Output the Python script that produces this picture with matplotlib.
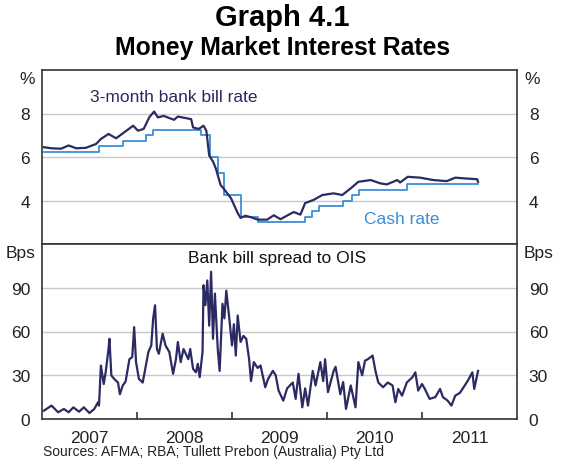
import matplotlib
matplotlib.use("Agg")
import matplotlib.pyplot as plt

plt.rcParams['font.family'] = ['Liberation Sans', 'DejaVu Sans']

# ---------------- data ----------------
bill_years = [2007.02, 2007.10, 2007.20, 2007.28, 2007.36, 2007.46, 2007.57, 2007.62, 2007.70, 2007.78,
              2007.87, 2007.96, 2008.01, 2008.07, 2008.13, 2008.18, 2008.22, 2008.28, 2008.39, 2008.43,
              2008.50, 2008.57, 2008.59, 2008.65, 2008.70, 2008.73, 2008.76, 2008.80, 2008.83, 2008.88,
              2008.91, 2008.99, 2009.06, 2009.09, 2009.14, 2009.20, 2009.27, 2009.37, 2009.44, 2009.51,
              2009.59, 2009.65, 2009.72, 2009.77, 2009.86, 2009.95, 2010.07, 2010.16, 2010.25, 2010.33,
              2010.46, 2010.56, 2010.63, 2010.74, 2010.77, 2010.85, 2010.98, 2011.12, 2011.26, 2011.35,
              2011.47, 2011.58, 2011.59]
bill_rate = [6.45, 6.40, 6.38, 6.53, 6.40, 6.42, 6.60, 6.83, 7.06, 6.86,
             7.15, 7.44, 7.21, 7.29, 7.83, 8.09, 7.82, 7.89, 7.71, 7.86,
             7.80, 7.74, 7.36, 7.29, 7.44, 7.21, 6.07, 5.79, 5.47, 4.71,
             4.56, 4.10, 3.42, 3.20, 3.30, 3.23, 3.12, 3.12, 3.32, 3.14,
             3.33, 3.47, 3.35, 3.88, 4.03, 4.25, 4.33, 4.25, 4.56, 4.86,
             4.94, 4.79, 4.74, 4.94, 4.83, 5.09, 5.05, 4.94, 4.89, 5.05,
             5.01, 4.98, 4.86]

cash_years = [2007.02, 2007.60, 2007.85, 2008.10, 2008.17, 2008.67, 2008.77, 2008.85, 2008.92,
              2009.09, 2009.27, 2009.77, 2009.84, 2009.92, 2010.17, 2010.26, 2010.34, 2010.84, 2011.59]
cash_rate = [6.25, 6.50, 6.75, 7.00, 7.25, 7.00, 6.00, 5.25, 4.25,
             3.25, 3.00, 3.25, 3.50, 3.75, 4.00, 4.25, 4.50, 4.75, 4.75]

spread_years = [2007.02, 2007.10, 2007.17, 2007.23, 2007.28, 2007.33, 2007.39, 2007.44, 2007.50, 2007.55,
                2007.59, 2007.60, 2007.62, 2007.65, 2007.67, 2007.70, 2007.71, 2007.73, 2007.76, 2007.80,
                2007.82, 2007.85, 2007.88, 2007.92, 2007.95, 2007.97, 2007.99, 2008.02, 2008.06, 2008.12,
                2008.15, 2008.17, 2008.19, 2008.21, 2008.23, 2008.27, 2008.30, 2008.34, 2008.38, 2008.41,
                2008.43, 2008.46, 2008.49, 2008.54, 2008.56, 2008.59, 2008.62, 2008.64, 2008.66, 2008.69,
                2008.70, 2008.72, 2008.74, 2008.76, 2008.78, 2008.80, 2008.82, 2008.85, 2008.87, 2008.90,
                2008.92, 2008.94, 2008.97, 2009.00, 2009.02, 2009.04, 2009.06, 2009.09, 2009.12, 2009.15,
                2009.18, 2009.20, 2009.23, 2009.27, 2009.30, 2009.35, 2009.38, 2009.43, 2009.46, 2009.49,
                2009.54, 2009.58, 2009.64, 2009.67, 2009.70, 2009.74, 2009.77, 2009.80, 2009.85, 2009.88,
                2009.93, 2009.96, 2009.98, 2010.01, 2010.07, 2010.09, 2010.14, 2010.17, 2010.20, 2010.25,
                2010.30, 2010.33, 2010.37, 2010.40, 2010.43, 2010.48, 2010.51, 2010.54, 2010.59, 2010.64,
                2010.69, 2010.72, 2010.75, 2010.79, 2010.84, 2010.90, 2010.93, 2010.96, 2011.00, 2011.03,
                2011.08, 2011.14, 2011.19, 2011.22, 2011.27, 2011.31, 2011.35, 2011.40, 2011.45, 2011.48,
                2011.53, 2011.55, 2011.59]
spread_bps = [5.7, 9.2, 4.6, 6.9, 4.6, 8.0, 5.0, 8.0, 4.1, 6.9,
              11.5, 9.2, 36.7, 24, 32, 48, 55, 29.8, 27.5, 25,
              17, 23, 25.7, 41, 42.5, 63, 39, 27.5, 25, 46,
              50.4, 68.8, 78, 48, 44.7, 58.5, 50.4, 46, 31, 41,
              52.8, 39, 48, 41, 48, 34.4, 32, 37.8, 28.7, 46,
              91.7, 78, 95, 64, 101, 55, 86, 48, 33, 79,
              69, 88, 70, 50.4, 65, 43.5, 71, 52.8, 57, 55,
              41, 26, 39, 35, 36.7, 21.8, 27.5, 33, 30, 19.5,
              12.6, 21, 25, 13.8, 31, 8, 21, 9.2, 33, 23,
              39, 26, 41, 18.4, 33, 35.8, 17, 25.3, 6.9, 23,
              8, 39, 30, 40, 41, 43.5, 33, 25, 21.8, 25,
              23, 11.5, 20.6, 16, 25, 28.7, 32, 19.5, 24, 20.6,
              13.8, 15, 20.6, 15, 12.6, 9.2, 16, 18, 23, 26,
              32, 20.6, 33]

year_labels = ['2007', '2008', '2009', '2010', '2011']
top_ticks = [4, 6, 8]
bottom_ticks = [0, 30, 60, 90]

# ---------------- style ----------------
NAVY = '#2b2a62'
LBLUE = '#3a8fd6'
GRID = '#c8c8c8'
SPINE = '#333333'
FS = 12.5

fig = plt.figure(figsize=(5.65, 4.64), dpi=100)
L, R = 42 / 565, 517 / 565
ax1 = fig.add_axes([L, 1 - 245 / 464, R - L, (245 - 71) / 464])
ax2 = fig.add_axes([L, 1 - 420 / 464, R - L, (420 - 245) / 464])

for ax in (ax1, ax2):
    ax.set_xlim(2007, 2012)
    for s in ax.spines.values():
        s.set_color(SPINE)
        s.set_linewidth(1.2)
    ax.tick_params(axis='y', left=False, right=False, labelleft=True, labelright=True,
                   labelsize=FS, pad=5, colors='#222222')
    ax.grid(axis='y', color=GRID, lw=1.0)
    ax.set_axisbelow(True)

# top panel
ax1.set_ylim(2, 10)
ax1.set_yticks(top_ticks)
ax1.set_xticks([])
ax1.plot(bill_years, bill_rate, color=NAVY, lw=1.6, zorder=3)
ax1.step(cash_years, cash_rate, where='post', color=LBLUE, lw=1.3, zorder=2)
ax1.text(2008.39, 8.79, '3-month bank bill rate', color=NAVY, fontsize=FS, ha='center', va='center')
ax1.text(2010.79, 3.15, 'Cash rate', color=LBLUE, fontsize=FS, ha='center', va='center')

# bottom panel
ax2.set_ylim(0, 120)
ax2.set_yticks(bottom_ticks)
ax2.plot(spread_years, spread_bps, color=NAVY, lw=1.6, zorder=3)
ax2.text(2009.47, 110.8, 'Bank bill spread to OIS', color='#111111', fontsize=FS, ha='center', va='center')

years_start = [2007, 2008, 2009, 2010, 2011]
ax2.set_xticks([y + 1 for y in years_start[:-1]])
ax2.set_xticklabels([])
ax2.set_xticks([y + 0.5 for y in years_start], minor=True)
ax2.set_xticklabels(year_labels, minor=True)
ax2.tick_params(axis='x', which='major', direction='in', length=5, width=1.2, color=SPINE, top=False)
ax2.tick_params(axis='x', which='minor', length=0, labelsize=FS, pad=8, colors='#222222')

# unit labels
for ax, unit in ((ax1, '%'), (ax2, 'Bps')):
    ax.annotate(unit, xy=(0, 0.95), xycoords='axes fraction', xytext=(-5, 0),
                textcoords='offset points', ha='right', va='center', fontsize=FS, color='#222222')
    ax.annotate(unit, xy=(1, 0.95), xycoords='axes fraction', xytext=(5, 0),
                textcoords='offset points', ha='left', va='center', fontsize=FS, color='#222222')

fig.text(0.5, 1 - 18 / 464, 'Graph 4.1', ha='center', va='center', fontsize=21, fontweight='bold')
fig.text(0.5, 1 - 48 / 464, 'Money Market Interest Rates', ha='center', va='center',
         fontsize=17.8, fontweight='bold')
fig.text(43 / 565, 1 - 452 / 464, 'Sources: AFMA; RBA; Tullett Prebon (Australia) Pty Ltd',
         ha='left', va='center', fontsize=10, color='#222222')

fig.savefig('out.png', dpi=100)
